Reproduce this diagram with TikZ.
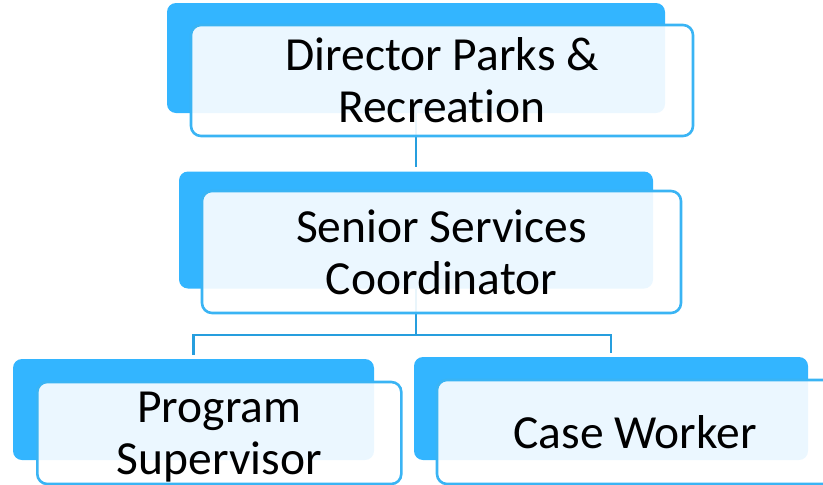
\documentclass[tikz,border=0pt]{standalone}
\usepackage{fontspec}
\setmainfont[Ligatures=NoCommon]{Carlito}
\definecolor{white}{RGB}{255,255,255}
\definecolor{black}{RGB}{0,0,0}
\definecolor{tab_blue}{RGB}{51,181,255}
\definecolor{frame_blue}{RGB}{58,180,244}
\definecolor{link_blue}{RGB}{38,158,222}

\begin{document}
\begin{tikzpicture}[x=1pt,y=-1pt,
	tab/.style={rectangle,rounded corners=9pt,fill=tab_blue,inner sep=0pt},
	card/.style={rectangle,rounded corners=10pt,draw=frame_blue,line width=2.6pt,fill=white,fill opacity=0.9,text opacity=1,text=black,align=center,inner sep=0pt,font=\fontsize{47.5}{52}\selectfont},
	link/.style={draw=link_blue,line width=2.5pt,shorten >=4pt}]
	\clip (0,0) rectangle (823,485);

	\node[tab,minimum width=498pt,minimum height=110pt] (1b) at (416,58) {};
	\node[tab,minimum width=474pt,minimum height=117pt] (2b) at (416,230) {};
	\node[tab,minimum width=361pt,minimum height=101pt] (3b) at (193.5,409.5) {};
	\node[tab,minimum width=394pt,minimum height=103pt] (4b) at (611,408.5) {};

	\coordinate (fork) at (416,335);
	\draw[link] (1b.south) -- (2b.north);
	\foreach \y in {3b,4b}
		\draw[link] (2b.south) -- (fork) -| (\y.north);

	\node[card,minimum width=502pt,minimum height=111pt] (1) at (442,80.5) {Director Parks \&\\Recreation};
	\node[card,minimum width=479pt,minimum height=122pt] (2) at (441.5,252) {Senior Services\\Coordinator};
	\node[card,minimum width=364pt,minimum height=102pt,text depth=0pt] (3) at (219.3,433) {Program\\Supervisor};
	\node[card,minimum width=396pt,minimum height=104pt] (4) at (635,432) {Case Worker};
\end{tikzpicture}
\end{document}
